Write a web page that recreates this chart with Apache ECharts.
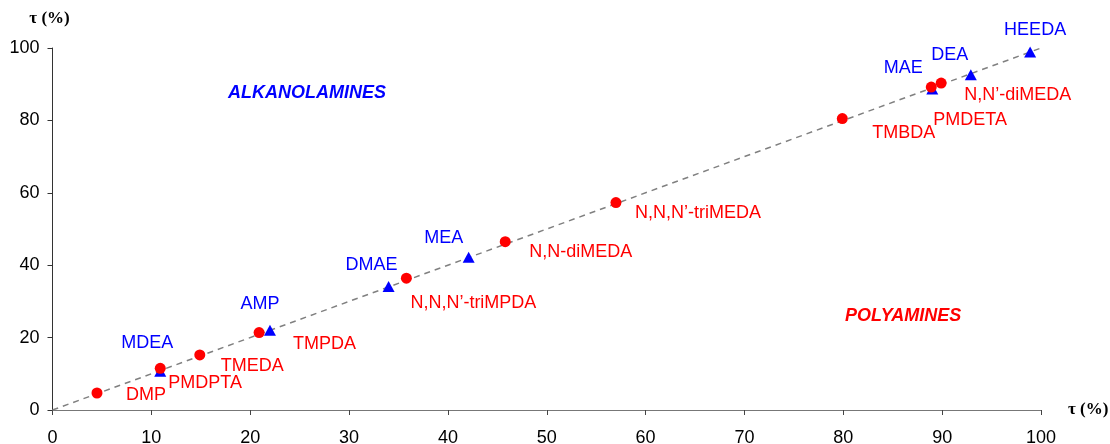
<!DOCTYPE html>
<html>
<head>
<meta charset="utf-8">
<script src="https://cdn.jsdelivr.net/npm/echarts@6/dist/echarts.min.js"></script>
<style>
html,body{margin:0;padding:0;background:#fff;}
#chart{width:1110px;height:444px;}
</style>
</head>
<body>
<div id="chart"></div>
<script>
// ---- data ----
const xTicks = [0, 10, 20, 30, 40, 50, 60, 70, 80, 90, 100];
const yTicks = [0, 20, 40, 60, 80, 100];

const polyNames = ['DMP', 'PMDPTA', 'TMEDA', 'TMPDA', 'N,N,N’-triMPDA', 'N,N-diMEDA', 'N,N,N’-triMEDA', 'TMBDA', 'PMDETA', 'N,N’-diMEDA'];
const polyX = [4.5, 10.9, 14.9, 20.9, 35.8, 45.8, 57.0, 79.9, 88.9, 89.9];
const polyY = [4.7, 11.5, 15.2, 21.4, 36.4, 46.5, 57.3, 80.5, 89.2, 90.3];

const alkNames = ['MDEA', 'AMP', 'DMAE', 'MEA', 'MAE', 'DEA', 'HEEDA'];
const alkX = [10.9, 22.0, 34.0, 42.1, 89.0, 92.9, 98.9];
const alkY = [10.7, 22.0, 34.1, 42.2, 88.7, 92.6, 98.9];

const parityX = [0, 100];
const parityY = [0, 100];

// ---- label layout (pixel offsets from marker) ----
const polyLabelOffsets = [[29, 2], [8, 15], [21, 11], [34, 11], [4, 25], [24, 10], [19, 10], [30, 14], [2, 33], [23, 12]];
const alkLabelOffsets = [[-13, -28], [-10, -26], [-17, -22], [-25, -19], [-29, -21], [-21, -20], [5, -22]];

const FONT = '"Liberation Sans", Arial, sans-serif';

const polyData = polyX.map((x, i) => ({
  value: [x, polyY[i]], name: polyNames[i],
  label: { offset: polyLabelOffsets[i] }
}));
const alkData = alkX.map((x, i) => ({
  value: [x, alkY[i]], name: alkNames[i],
  label: { offset: alkLabelOffsets[i] }
}));

const chart = echarts.init(document.getElementById('chart'), null, { renderer: 'canvas' });
const nameStyle = { fontFamily: '"Liberation Serif", "Times New Roman", serif', fontWeight: 'bold', fontSize: 17, color: '#000' };
chart.setOption({
  animation: false,
  backgroundColor: '#fff',
  grid: { left: 52.5, right: 69, top: 48, bottom: 34, containLabel: false, outerBoundsMode: 'none' },
  xAxis: {
    type: 'value', min: 0, max: 100, interval: 10,
    name: 'τ (%)', nameLocation: 'end', nameGap: 27,
    nameTextStyle: Object.assign({}, nameStyle, { padding: [2, 0, 0, 0] }),
    axisLine: { show: true, lineStyle: { color: '#777', width: 1 } },
    axisTick: { show: true, inside: false, length: 5, lineStyle: { color: '#444' } },
    splitLine: { show: false },
    axisLabel: { fontFamily: FONT, fontSize: 18, color: '#000', margin: 19 }
  },
  yAxis: {
    type: 'value', min: 0, max: 100, interval: 20,
    name: 'τ (%)', nameLocation: 'end', nameGap: 21,
    nameTextStyle: Object.assign({}, nameStyle, { padding: [0, 6, 0, 0] }),
    axisLine: { show: true, lineStyle: { color: '#333', width: 1 } },
    axisTick: { show: true, inside: false, length: 5, lineStyle: { color: '#333' } },
    splitLine: { show: false },
    axisLabel: { fontFamily: FONT, fontSize: 18, color: '#000', margin: 13 }
  },
  graphic: [
    { type: 'text', left: 228, top: 84, style: { text: 'ALKANOLAMINES', fill: '#0000ff', font: 'italic bold 18px ' + FONT } },
    { type: 'text', left: 845, top: 307, style: { text: 'POLYAMINES', fill: '#ff0000', font: 'italic bold 18px ' + FONT } }
  ],
  series: [
    {
      type: 'line', data: parityX.map((x, i) => [x, parityY[i]]), symbol: 'none', z: 1,
      lineStyle: { color: '#808080', width: 1.5, type: [6, 5] }, silent: true
    },
    {
      type: 'scatter', name: 'alkanolamines', data: alkData, symbol: 'triangle', symbolSize: [12, 11], z: 2,
      itemStyle: { color: '#0000ff', opacity: 1 },
      label: { show: true, position: 'inside', formatter: '{b}', color: '#0000ff', fontFamily: FONT, fontSize: 18, align: 'center', verticalAlign: 'middle' }
    },
    {
      type: 'scatter', name: 'polyamines', data: polyData, symbol: 'circle', symbolSize: 11, z: 3,
      itemStyle: { color: '#ff0000', opacity: 1 },
      label: { show: true, position: 'inside', formatter: '{b}', color: '#ff0000', fontFamily: FONT, fontSize: 18, align: 'left', verticalAlign: 'middle' }
    }
  ]
});
</script>
</body>
</html>
